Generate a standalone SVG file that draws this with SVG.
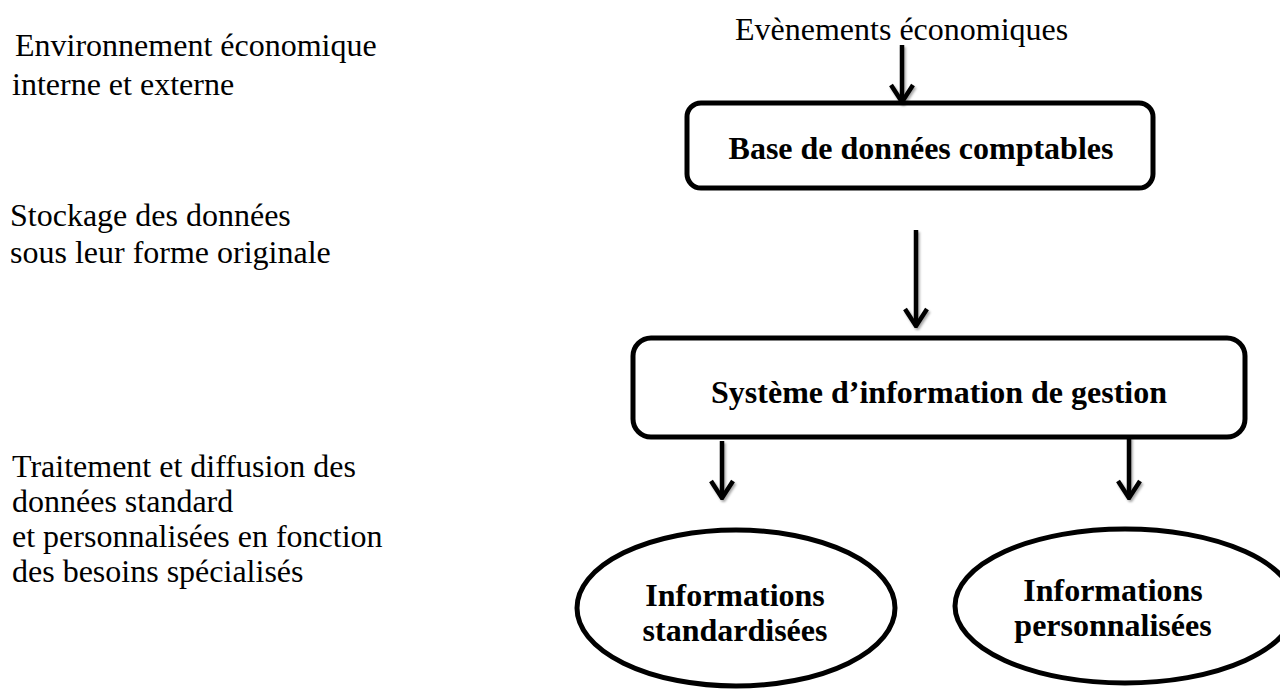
<svg xmlns="http://www.w3.org/2000/svg" width="1280" height="690" viewBox="0 0 1280 690">
  <style>
    .note { font-family: "Liberation Serif", "Times New Roman", serif; font-size: 32px; fill: #000; }
    .label { font-family: "Liberation Serif", "Times New Roman", serif; font-size: 32px; font-weight: bold; fill: #000; text-anchor: middle; }
    .shape { fill: #fff; stroke: #000; stroke-width: 5; }
    .link { fill: none; stroke: #000; stroke-width: 4.5; }
  </style>
  <defs>
    <filter id="soft-shadow" x="-50%" y="-20%" width="200%" height="140%">
      <feDropShadow dx="1.5" dy="2" stdDeviation="1" flood-color="#000" flood-opacity="0.35"/>
    </filter>
    <!-- open V arrowhead, drawn pointing along +x so orient="auto" follows the line -->
    <marker id="chevron" viewBox="0 0 22 26" refX="20" refY="13" markerWidth="22" markerHeight="26" markerUnits="userSpaceOnUse" orient="auto">
      <path d="M3 2 L20 13 L3 24" fill="none" stroke="#000" stroke-width="4.5" stroke-linejoin="miter"/>
    </marker>
  </defs>

  <rect width="1280" height="690" fill="#fff"/>

  <!-- side annotations -->
  <g id="note-environnement">
    <text class="note" x="15" y="56">Environnement économique</text>
    <text class="note" x="12" y="95">interne et externe</text>
  </g>
  <g id="note-stockage">
    <text class="note" x="10" y="226">Stockage des données</text>
    <text class="note" x="10" y="263">sous leur forme originale</text>
  </g>
  <g id="note-traitement">
    <text class="note" x="12" y="477">Traitement et diffusion des</text>
    <text class="note" x="12" y="512">données standard</text>
    <text class="note" x="12" y="547">et personnalisées en fonction</text>
    <text class="note" x="12" y="582">des besoins spécialisés</text>
  </g>

  <!-- flow -->
  <g id="source-evenements">
    <text class="note" x="735" y="40">Evènements économiques</text>
  </g>

  <g id="node-base">
    <rect class="shape" x="687" y="103" width="466" height="85" rx="14"/>
    <text class="label" x="921" y="159">Base de données comptables</text>
  </g>

  <g id="node-sig">
    <rect class="shape" x="633" y="338" width="612" height="99" rx="18"/>
    <text class="label" x="939" y="403">Système d’information de gestion</text>
  </g>

  <g id="node-standard">
    <ellipse class="shape" cx="736" cy="608" rx="159" ry="78"/>
    <text class="label" x="735" y="606">Informations</text>
    <text class="label" x="735" y="641">standardisées</text>
  </g>

  <g id="node-perso">
    <ellipse class="shape" cx="1125" cy="606" rx="170" ry="77"/>
    <text class="label" x="1113" y="601">Informations</text>
    <text class="label" x="1113" y="636">personnalisées</text>
  </g>

  <g id="connectors" filter="url(#soft-shadow)">
    <path class="link" d="M902 45 V102" marker-end="url(#chevron)"/>
    <path class="link" d="M916 230 V326" marker-end="url(#chevron)"/>
    <path class="link" d="M722 441 V498" marker-end="url(#chevron)"/>
    <path class="link" d="M1129 437 V498" marker-end="url(#chevron)"/>
  </g>
</svg>
